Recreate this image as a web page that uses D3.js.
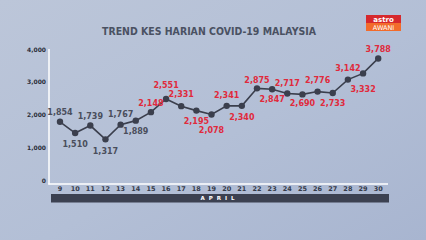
<!DOCTYPE html>
<html>
<head>
<meta charset="utf-8">
<script src="https://cdn.jsdelivr.net/npm/d3@7"></script>
<style>
  body { margin: 0; padding: 0; overflow: hidden; }
  svg { display: block; font-family: "DejaVu Sans", sans-serif; font-weight: bold; }
</style>
</head>
<body>
<div class="chart"></div>
<script>
const width = 426;
const height = 240;

// daily cases, 9-30 April
const days = [9, 10, 11, 12, 13, 14, 15, 16, 17, 18, 19, 20, 21, 22, 23, 24, 25, 26, 27, 28, 29, 30];
const cases = [1854, 1510, 1739, 1317, 1767, 1889, 2148, 2551, 2331, 2195, 2078, 2341, 2340, 2875, 2847, 2717, 2690, 2776, 2733, 3142, 3332, 3788];
const yTicks = [0, 1000, 2000, 3000, 4000];
// label nudge above (-) or below (+) each point
const labelOffset = [-10, 11, -9, 12, -10, 11, -9, -14, -12, 11, 16, -11, 11, -8, 10, -10, 9, -11, 10, -11, 16, -9];
const redFrom = 15;

let svg = d3.select(".chart")
    .append("svg")
    .attr("width", width)
    .attr("height", height);

let defs = svg.append("defs");
let grad = defs.append("linearGradient").attr("id", "bg")
    .attr("x1", 0).attr("y1", 0).attr("x2", 1).attr("y2", 1);
grad.append("stop").attr("offset", "0%").attr("stop-color", "#bcc6d9");
grad.append("stop").attr("offset", "55%").attr("stop-color", "#b3bfd6");
grad.append("stop").attr("offset", "100%").attr("stop-color", "#a8b5d0");

svg.append("rect").attr("width", width).attr("height", height).attr("fill", "url(#bg)");

// logo
svg.append("rect").attr("x", 366).attr("y", 15).attr("width", 35).attr("height", 8).attr("fill", "#d6282d");
svg.append("rect").attr("x", 366).attr("y", 23).attr("width", 35).attr("height", 8).attr("fill", "#f26b2b");
svg.append("text").attr("x", 383.5).attr("y", 21.5).attr("text-anchor", "middle")
    .attr("fill", "#fff").attr("font-size", 7).text("astro");
svg.append("text").attr("x", 383.5).attr("y", 29.5).attr("text-anchor", "middle")
    .attr("fill", "#fff").attr("font-size", 6.5).attr("font-weight", "normal").text("AWANI");

// title
svg.append("text").attr("x", 209).attr("y", 34.5).attr("text-anchor", "middle")
    .attr("fill", "#4a5162").attr("font-size", 10)
    .attr("textLength", 214).attr("lengthAdjust", "spacingAndGlyphs")
    .text("TREND KES HARIAN COVID-19 MALAYSIA");

let x = d3.scalePoint().domain(days).range([60, 378.2]);
let y = d3.scaleLinear().domain([0, 4000]).range([182.5, 51.5]);

// y axis labels
svg.selectAll(".ytick")
    .data(yTicks)
    .enter()
    .append("text")
    .attr("class", "ytick")
    .attr("x", 46)
    .attr("y", d => y(d) - 2)
    .attr("dy", "0.35em")
    .attr("text-anchor", "end")
    .attr("fill", "#2a2e3a")
    .attr("font-size", 6)
    .text(d => d3.format(",")(d));

// axis lines
svg.append("line").attr("x1", 49).attr("x2", 49).attr("y1", 49).attr("y2", 184.5)
    .attr("stroke", "#fff").attr("stroke-width", 1.5);
svg.append("line").attr("x1", 48.25).attr("x2", 388).attr("y1", 184).attr("y2", 184)
    .attr("stroke", "#fff").attr("stroke-width", 1.5);

// x labels
svg.selectAll(".xtick")
    .data(days)
    .enter()
    .append("text")
    .attr("class", "xtick")
    .attr("x", d => x(d))
    .attr("y", 189)
    .attr("dy", "0.35em")
    .attr("text-anchor", "middle")
    .attr("fill", "#363b4a")
    .attr("font-size", 6.5)
    .text(d => d);

// month band
svg.append("rect").attr("x", 51).attr("y", 194).attr("width", 338).attr("height", 8.5).attr("fill", "#3c4151");
svg.append("text").attr("x", 219.5).attr("y", 198.3).attr("dy", "0.35em")
    .attr("text-anchor", "middle").attr("fill", "#fff").attr("font-size", 5.5)
    .attr("letter-spacing", 4).text("APRIL");

let line = d3.line().x((d, i) => x(days[i])).y(d => y(d));

svg.append("path")
    .datum(cases)
    .attr("d", line)
    .attr("fill", "none")
    .attr("stroke", "#3b3f4d")
    .attr("stroke-width", 1.6);

svg.selectAll("circle")
    .data(cases)
    .enter()
    .append("circle")
    .attr("cx", (d, i) => x(days[i]))
    .attr("cy", d => y(d))
    .attr("r", 3.2)
    .attr("fill", "#3b3f4d");

svg.selectAll(".val")
    .data(cases)
    .enter()
    .append("text")
    .attr("class", "val")
    .attr("x", (d, i) => x(days[i]))
    .attr("y", (d, i) => y(d) + labelOffset[i])
    .attr("dy", "0.35em")
    .attr("text-anchor", "middle")
    .attr("font-size", 8)
    .attr("fill", (d, i) => days[i] >= redFrom ? "#e02a3c" : "#4a4e5c")
    .text(d => d3.format(",")(d));
</script>
</body>
</html>
